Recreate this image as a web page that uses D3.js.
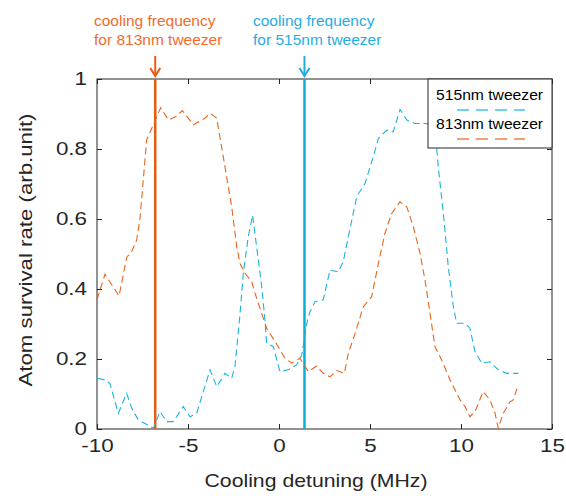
<!DOCTYPE html>
<html>
<head>
<meta charset="utf-8">
<script src="https://cdn.jsdelivr.net/npm/d3@7"></script>
<style>
  body { margin: 0; background: #fff; }
  svg { font-family: "Liberation Sans", Arial, Helvetica, sans-serif; }
</style>
</head>
<body>
<div id="chart"></div>
<script>
// detuning (MHz) and survival values
var x515 = [-9.96, -9.56, -9.29, -8.83, -8.37, -8.09, -7.73, -7.18, -6.9, -6.54, -6.17, -5.81, -5.26, -4.89, -4.52, -4.16,
  -3.79, -3.42, -2.97, -2.6, -2.42, -2.14, -1.96, -1.69, -1.45, -1.23, -0.95, -0.77, -0.68, -0.31, 0.05, 0.51, 0.97, 1.25,
  1.52, 1.7, 1.98, 2.43, 2.8, 3.26, 3.53, 3.81, 4.27, 4.73, 5.18, 5.46, 5.92, 6.28, 6.65, 7.02, 7.47, 8.11, 8.57, 8.75,
  9.03, 9.3, 9.58, 9.76, 10.22, 10.49, 10.77, 11.14, 11.59, 12.05, 12.51, 13.15]
var y515 = [0.145, 0.14, 0.13, 0.045, 0.102, 0.059, 0.026, 0.011, 0.002, 0.05, 0.021, 0.021, 0.064, 0.035, 0.045, 0.107,
  0.169, 0.121, 0.159, 0.145, 0.178, 0.33, 0.445, 0.549, 0.611, 0.521, 0.407, 0.311, 0.245, 0.235, 0.164, 0.169, 0.183, 0.211,
  0.3, 0.335, 0.364, 0.369, 0.454, 0.449, 0.478, 0.549, 0.664, 0.702, 0.778, 0.83, 0.854, 0.849, 0.913, 0.883, 0.873, 0.873, 0.859, 0.749,
  0.616, 0.464, 0.349, 0.302, 0.302, 0.288, 0.221, 0.188, 0.192, 0.169, 0.159, 0.159]

var x813 = [-10, -9.56, -8.79, -8.37, -8.09, -7.82, -7.64, -7.27, -6.9, -6.5, -6.08, -5.62, -5.31, -4.7, -4.07, -3.79, -3.42,
  -2.6, -2.32, -2.14, -1.87, -1.5, -1.32, -0.95, -0.68, -0.04, 0.33, 0.7, 1.15, 1.61, 2.07, 2.43, 2.8, 3.17, 3.59, 3.81,
  4.18, 4.63, 5.09, 5.46, 5.82, 6.19, 6.65, 7.02, 7.38, 7.75, 8.02, 8.3, 8.57, 8.94, 9.4, 9.95, 10.22, 10.49, 10.77, 11.22,
  11.59, 11.87, 12.05, 12.32, 12.7, 12.87, 13.15]
var y813 = [0.37, 0.442, 0.38, 0.49, 0.507, 0.54, 0.6, 0.826, 0.87, 0.918, 0.883, 0.894, 0.91, 0.869, 0.888, 0.902, 0.888,
  0.635, 0.52, 0.473, 0.445, 0.421, 0.388, 0.33, 0.288, 0.235, 0.202, 0.188, 0.202, 0.164, 0.18, 0.159, 0.149, 0.167, 0.159, 0.216,
  0.273, 0.349, 0.378, 0.473, 0.559, 0.616, 0.649, 0.635, 0.578, 0.502, 0.426, 0.33, 0.235, 0.197, 0.14, 0.083, 0.064, 0.035, 0.05, 0.107,
  0.083, 0.045, 0.002, 0.045, 0.078, 0.083, 0.126]

var xTicks = [-10, -5, 0, 5, 10, 15]
var yTicks = [0, 0.2, 0.4, 0.6, 0.8, 1]
var markers = [{f: -6.8, name: "813"}, {f: 1.4, name: "515"}]

var width = 566, height = 496
var margin = {left: 97, right: 14, top: 79, bottom: 67}
var blue = "#19b4dd", orange = "#e8651e"
var blueLine = "#0aafd8", orangeLine = "#e65c12"

var svg = d3.select("#chart").append("svg")
  .attr("width", width).attr("height", height)

var x = d3.scaleLinear().domain([-10, 15]).range([margin.left, width - margin.right])
var y = d3.scaleLinear().domain([0, 1]).range([height - margin.bottom, margin.top])

var axisColor = "#262626"

// the original font runs wider than Liberation Sans, stretch text a bit
function widen(sel, f) {
  sel.each(function() {
    var len = this.getComputedTextLength()
    d3.select(this).attr("textLength", len * f).attr("lengthAdjust", "spacingAndGlyphs")
  })
}

// box
svg.append("rect")
  .attr("x", x(-10)).attr("y", y(1))
  .attr("width", x(15) - x(-10)).attr("height", y(0) - y(1))
  .attr("fill", "none").attr("stroke", axisColor).attr("stroke-width", 1)

svg.append("g").attr("class", "xaxis").attr("transform", "translate(0," + y(0) + ")")
  .call(d3.axisBottom(x).tickValues(xTicks).tickSizeInner(-5).tickSizeOuter(0).tickPadding(11).tickFormat(d3.format("")))
  .call(g => g.select(".domain").remove())
svg.append("g").attr("transform", "translate(0," + y(1) + ")")
  .call(d3.axisTop(x).tickValues(xTicks).tickSizeInner(-5).tickSizeOuter(0).tickFormat(""))
  .call(g => g.select(".domain").remove())
svg.append("g").attr("class", "yaxis").attr("transform", "translate(" + x(-10) + ",0)")
  .call(d3.axisLeft(y).tickValues(yTicks).tickSizeInner(-5).tickSizeOuter(0).tickPadding(10).tickFormat(d3.format("")))
  .call(g => g.select(".domain").remove())
svg.append("g").attr("transform", "translate(" + x(15) + ",0)")
  .call(d3.axisRight(y).tickValues(yTicks).tickSizeInner(-5).tickSizeOuter(0).tickFormat(""))
  .call(g => g.select(".domain").remove())

svg.selectAll(".tick line").attr("stroke", axisColor)
svg.selectAll(".tick text").attr("fill", axisColor).style("font-size", "17.5px")
  .style("font-family", "'Liberation Sans', Arial, sans-serif")
// plain hyphen like the original
svg.selectAll(".xaxis .tick text").text(d => String(d))
widen(svg.selectAll(".xaxis .tick text, .yaxis .tick text"), 1.28)

// axis titles
svg.append("text")
  .attr("x", 316).attr("y", 487)
  .attr("text-anchor", "middle").attr("fill", axisColor).style("font-size", "19px")
  .attr("textLength", 223).attr("lengthAdjust", "spacingAndGlyphs")
  .text("Cooling detuning (MHz)")
svg.append("text")
  .attr("transform", "translate(32," + (y(0.5) - 4) + ") rotate(-90)")
  .attr("text-anchor", "middle").attr("fill", axisColor).style("font-size", "19px")
  .attr("textLength", 273).attr("lengthAdjust", "spacingAndGlyphs")
  .text("Atom survival rate (arb.unit)")

// marker lines
svg.selectAll(".marker").data(markers).enter().append("line")
  .attr("x1", d => x(d.f)).attr("x2", d => x(d.f))
  .attr("y1", y(1)).attr("y2", y(0))
  .attr("stroke", d => d.name == "813" ? orangeLine : blueLine)
  .attr("stroke-width", 2.5)

// data lines
var line = d3.line().x(d => x(d[0])).y(d => y(d[1]))
var series = [
  {name: "515nm tweezer", xs: x515, ys: y515, color: blue},
  {name: "813nm tweezer", xs: x813, ys: y813, color: orange}
]
series.forEach(function(s) {
  svg.append("path")
    .datum(d3.zip(s.xs, s.ys))
    .attr("d", line)
    .attr("fill", "none").attr("stroke", s.color)
    .attr("stroke-width", 1.1).attr("stroke-dasharray", "7,4")
})

// annotations
var notes = [
  {lines: ["cooling frequency", "for 813nm tweezer"], x: 94, color: "#f26b2a", f: -6.8, arrow: orangeLine},
  {lines: ["cooling frequency", "for 515nm tweezer"], x: 253, color: "#27ade3", f: 1.4, arrow: "#27a8e0"}
]
notes.forEach(function(n) {
  var t = svg.append("text").attr("fill", n.color).style("font-size", "15.5px")
  n.lines.forEach(function(l, i) {
    t.append("tspan").attr("x", n.x).attr("y", 26 + i * 19).text(l)
  })
  var ax = x(n.f)
  svg.append("line").attr("x1", ax).attr("x2", ax).attr("y1", 56).attr("y2", 74)
    .attr("stroke", n.arrow).attr("stroke-width", 2)
  svg.append("path")
    .attr("d", "M" + (ax - 5) + ",68 L" + ax + ",76 L" + (ax + 5) + ",68")
    .attr("fill", "none").attr("stroke", n.arrow).attr("stroke-width", 2)
})

// legend
var lg = svg.append("g")
lg.append("rect").attr("x", 428).attr("y", y(1)).attr("width", x(15) - 428).attr("height", 69)
  .attr("fill", "#fff").attr("stroke", axisColor).attr("stroke-width", 1)
series.forEach(function(s, i) {
  var t = lg.append("text").attr("x", 436).attr("y", 100 + i * 29)
    .attr("fill", "#000").style("font-size", "14.5px").text(s.name)
  widen(t, 1.08)
  lg.append("line").attr("x1", 457).attr("x2", 525)
    .attr("y1", 110 + i * 29).attr("y2", 110 + i * 29)
    .attr("stroke", s.color).attr("stroke-width", 1.3).attr("stroke-dasharray", "12,7")
    .attr("opacity", 0.8)
})
</script>
</body>
</html>
